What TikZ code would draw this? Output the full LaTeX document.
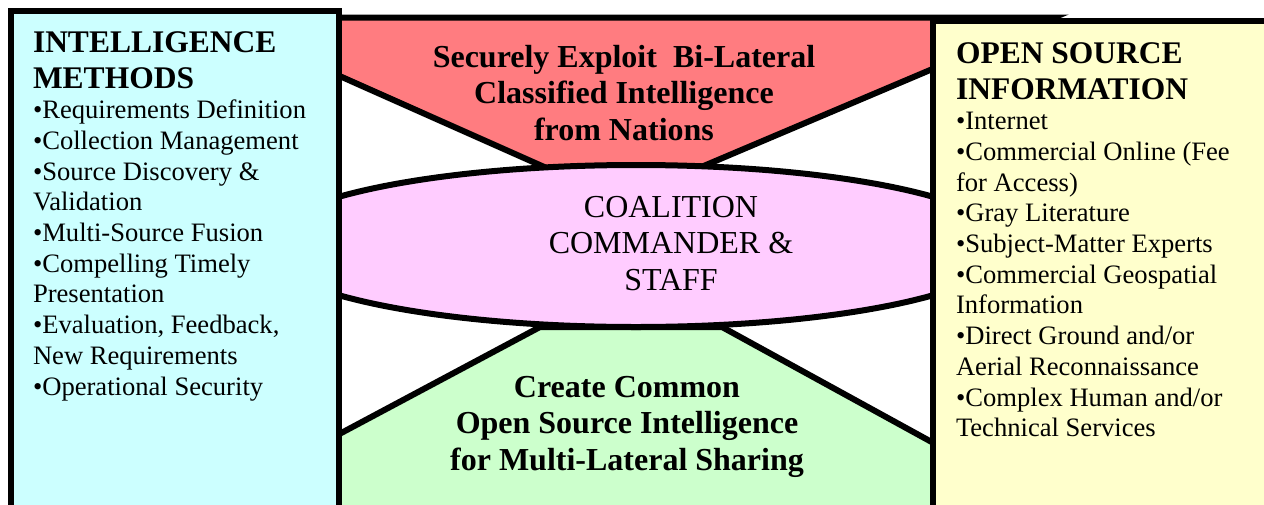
\documentclass[tikz,border=0pt]{standalone}
\usepackage{fontspec}
\setmainfont{Liberation Serif}
\definecolor{cyanfill}{RGB}{204,255,255}
\definecolor{yellowfill}{RGB}{255,255,204}
\definecolor{pinkfill}{RGB}{255,204,255}
\definecolor{greenfill}{RGB}{204,255,204}
\definecolor{redfill}{RGB}{255,124,128}
\tikzset{
  outline/.style={draw=black, line width=6pt, line join=miter},
  txt/.style={inner sep=0pt, outer sep=0pt},
}
\newcommand{\headfont}{\fontsize{31.5}{36}\selectfont\bfseries}
\newcommand{\itemfont}{\fontsize{26.6}{30.7}\selectfont\mdseries}
\newcommand{\centerfont}{\fontsize{32}{36.8}\selectfont}
\begin{document}
\begin{tikzpicture}[x=1pt,y=-1pt]
\useasboundingbox (0,0) rectangle (1264,504);
\clip (0,0) rectangle (1264,504);
\fill[white] (0,0) rectangle (1264,504);
% red top trapezoid
\path[outline, fill=redfill] (208,17.5) -- (1054,17.5) -- (647,190) -- (596,190) -- cycle;
% green bottom trapezoid
\path[outline, fill=greenfill] (300,455) -- (540,327) -- (722,327) -- (990,474) -- (990,530) -- (300,530) -- cycle;
% central ellipse
\path[outline, fill=pinkfill] (636,246) ellipse [x radius=374, y radius=81];
% left box
\path[outline, fill=cyanfill] (11,11) rectangle (338.5,530);
% right box
\path[outline, fill=yellowfill] (933,20.5) rectangle (1290,530);

% texts
\node[txt, anchor=base west] (methods) at (33,52) {\parbox[t]{300pt}{\raggedright
  \headfont INTELLIGENCE\\METHODS\par
  \itemfont •Requirements Definition\\
  •Collection Management\\
  •Source Discovery \&\\
  Validation\\
  •Multi-Source Fusion\\
  •Compelling Timely\\
  Presentation\\
  •Evaluation, Feedback,\\
  New Requirements\\
  •Operational Security\par}};

\node[txt, anchor=base west] (osinfo) at (956,63) {\parbox[t]{300pt}{\raggedright
  \headfont OPEN SOURCE\\INFORMATION\par
  \itemfont •Internet\\
  •Commercial Online (Fee\\
  for Access)\\
  •Gray Literature\\
  •Subject-Matter Experts\\
  •Commercial Geospatial\\
  Information\\
  •Direct Ground and/or\\
  Aerial Reconnaissance\\
  •Complex Human and/or\\
  Technical Services\par}};

\node[txt, anchor=base] (exploit) at (624,67) {\parbox[t]{520pt}{\centering
  \centerfont\bfseries Securely Exploit\ \ Bi-Lateral\\
  Classified Intelligence\\
  from Nations\par}};

\node[txt, anchor=base] (coalition) at (671,217) {\parbox[t]{400pt}{\centering
  \centerfont COALITION\\
  COMMANDER \&\\
  STAFF\par}};

\node[txt, anchor=base] (create) at (627,397) {\parbox[t]{520pt}{\centering
  \centerfont\bfseries Create Common\\
  Open Source Intelligence\\
  for Multi-Lateral Sharing\par}};
\end{tikzpicture}
\end{document}
